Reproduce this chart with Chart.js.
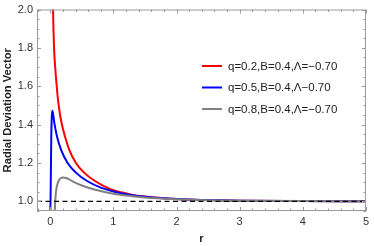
<!DOCTYPE html>
<html>
<head>
<meta charset="utf-8">
<script src="https://cdn.jsdelivr.net/npm/chart.js@4/dist/chart.umd.min.js"></script>
<style>
  html, body { margin: 0; padding: 0; background: #fff; }
  #wrap { width: 374px; height: 246px; }
</style>
</head>
<body>
<div id="wrap"><canvas id="radialChart" width="374" height="246"></canvas></div>
<script>
// radial deviation vector vs r, three q values (B=0.4, Λ=-0.70)
const rRed = [0.032, 0.044, 0.06, 0.08, 0.1, 0.118, 0.144, 0.18, 0.233, 0.30, 0.406, 0.537, 0.69, 0.85, 1.0, 1.25, 1.5, 2.0, 2.5, 3.0, 4.0, 5.0];
const vRed = [2.3, 2.0, 1.8, 1.69, 1.61, 1.544, 1.475, 1.407, 1.338, 1.27, 1.20, 1.15, 1.11, 1.08, 1.058, 1.038, 1.025, 1.012, 1.007, 1.004, 1.002, 1.001];

const rBlue = [0.0, 0.008, 0.016, 0.024, 0.034, 0.045, 0.066, 0.107, 0.17, 0.275, 0.406, 0.59, 0.8, 1.0, 1.25, 1.5, 2.0, 2.5, 3.0, 4.0, 5.0];
const vBlue = [0.9, 1.1, 1.33, 1.44, 1.472, 1.455, 1.407, 1.338, 1.27, 1.20, 1.15, 1.105, 1.072, 1.052, 1.035, 1.024, 1.012, 1.007, 1.004, 1.002, 1.001];

const rGray = [0.065, 0.075, 0.085, 0.097, 0.115, 0.134, 0.16, 0.2, 0.25, 0.3, 0.385, 0.5, 0.7, 1.0, 1.25, 1.5, 2.0, 2.5, 3.0, 4.0, 5.0];
const vGray = [0.9, 0.98, 1.03, 1.065, 1.092, 1.108, 1.12, 1.125, 1.122, 1.115, 1.099, 1.083, 1.062, 1.04, 1.029, 1.02, 1.011, 1.006, 1.0035, 1.0015, 1.001];

const seriesLabels = ['q=0.2,B=0.4,\u039B=\u22120.70', 'q=0.5,B=0.4,\u039B\u22120.70', 'q=0.8,B=0.4,\u039B=\u22120.70'];
const seriesColors = ['#ff0000', '#0000ff', '#808080'];

const xTicks = [0, 1, 2, 3, 4, 5];
const yTicks = [1.0, 1.2, 1.4, 1.6, 1.8, 2.0];
const xMinor = [-0.2, 0.2, 0.4, 0.6, 0.8, 1.2, 1.4, 1.6, 1.8, 2.2, 2.4, 2.6, 2.8, 3.2, 3.4, 3.6, 3.8, 4.2, 4.4, 4.6, 4.8];
const yMinor = [0.95, 1.05, 1.1, 1.15, 1.25, 1.3, 1.35, 1.45, 1.5, 1.55, 1.65, 1.7, 1.75, 1.85, 1.9, 1.95];

const X_MIN = -0.21, X_MAX = 5;
const Y_MIN = 0.95, Y_MAX = 2.0;
const FONT = '"Liberation Sans", Arial, sans-serif';

function toPoints(xs, ys) {
    return xs.map((x, i) => ({ x, y: ys[i] }));
}

function curve(i, xs, ys) {
    return {
        label: seriesLabels[i],
        data: toPoints(xs, ys),
        borderColor: seriesColors[i],
        backgroundColor: seriesColors[i],
        borderWidth: 2,
        pointRadius: 0,
        showLine: true,
        cubicInterpolationMode: 'monotone',
        clip: 0,
        order: 3 - i,
    };
}

// Mathematica-style frame with inward ticks on all four sides + inset legend
const frameTicks = {
    id: 'frameTicks',
    afterDraw(chart) {
        const { ctx, chartArea: a, scales: { x, y } } = chart;
        ctx.save();
        ctx.strokeStyle = '#9a9a9a';
        ctx.lineWidth = 1;
        ctx.strokeRect(a.left + 0.5, a.top + 0.5, a.right - a.left - 1, a.bottom - a.top - 1);

        const vTick = (v, len) => {
            const px = Math.round(x.getPixelForValue(v)) + 0.5;
            ctx.beginPath();
            ctx.moveTo(px, a.bottom); ctx.lineTo(px, a.bottom - len);
            ctx.moveTo(px, a.top); ctx.lineTo(px, a.top + len);
            ctx.stroke();
        };
        const hTick = (v, len) => {
            const py = Math.round(y.getPixelForValue(v)) + 0.5;
            ctx.beginPath();
            ctx.moveTo(a.left, py); ctx.lineTo(a.left + len, py);
            ctx.moveTo(a.right, py); ctx.lineTo(a.right - len, py);
            ctx.stroke();
        };
        xTicks.forEach(v => vTick(v, 4));
        xMinor.forEach(v => vTick(v, 2.5));
        yTicks.forEach(v => hTick(v, 4));
        yMinor.forEach(v => hTick(v, 2.5));

        // legend
        const legendX = 202, legendY = [66, 87.5, 109];
        ctx.font = '11.5px ' + FONT;
        ctx.textBaseline = 'middle';
        ctx.fillStyle = '#222';
        seriesLabels.forEach((text, i) => {
            ctx.strokeStyle = seriesColors[i];
            ctx.lineWidth = 2;
            ctx.beginPath();
            ctx.moveTo(legendX, legendY[i]);
            ctx.lineTo(legendX + 20, legendY[i]);
            ctx.stroke();
            ctx.fillText(text, legendX + 26, legendY[i] + 0.5);
        });
        ctx.restore();
    },
};

new Chart(document.getElementById('radialChart'), {
    type: 'scatter',
    data: {
        datasets: [
            curve(0, rRed, vRed),
            curve(1, rBlue, vBlue),
            curve(2, rGray, vGray),
            {
                label: 'asymptote',
                data: [{ x: X_MIN, y: 1 }, { x: X_MAX, y: 1 }],
                borderColor: '#000',
                borderWidth: 1.2,
                borderDash: [5, 3.5],
                pointRadius: 0,
                showLine: true,
                order: 0,
            },
        ],
    },
    options: {
        responsive: false,
        animation: false,
        layout: { padding: { left: 0, right: 5, top: 6, bottom: 0 } },
        plugins: {
            legend: { display: false },
            tooltip: { enabled: false },
        },
        scales: {
            x: {
                type: 'linear',
                min: X_MIN,
                max: X_MAX,
                grid: { display: false, drawTicks: false },
                border: { display: false },
                afterBuildTicks: scale => { scale.ticks = xTicks.map(value => ({ value })); },
                afterFit: scale => { scale.height = 35; },
                ticks: {
                    padding: 5,
                    color: '#333',
                    font: { family: FONT, size: 11, lineHeight: 1 },
                    callback: v => String(v),
                },
                title: {
                    display: true,
                    text: 'r',
                    color: '#222',
                    padding: { top: 0, bottom: 0 },
                    font: { family: FONT, size: 11, weight: 'bold' },
                },
            },
            y: {
                type: 'linear',
                min: Y_MIN,
                max: Y_MAX,
                grid: { display: false, drawTicks: false },
                border: { display: false },
                afterBuildTicks: scale => { scale.ticks = yTicks.map(value => ({ value })); },
                afterFit: scale => { scale.width = 37; },
                ticks: {
                    padding: 4,
                    color: '#333',
                    font: { family: FONT, size: 11, lineHeight: 1 },
                    callback: v => Number(v).toFixed(1),
                },
                title: {
                    display: true,
                    text: 'Radial Deviation Vector',
                    color: '#222',
                    padding: { top: 1, bottom: 0 },
                    font: { family: FONT, size: 11.2, weight: 'bold' },
                },
            },
        },
    },
    plugins: [frameTicks],
});
</script>
</body>
</html>
